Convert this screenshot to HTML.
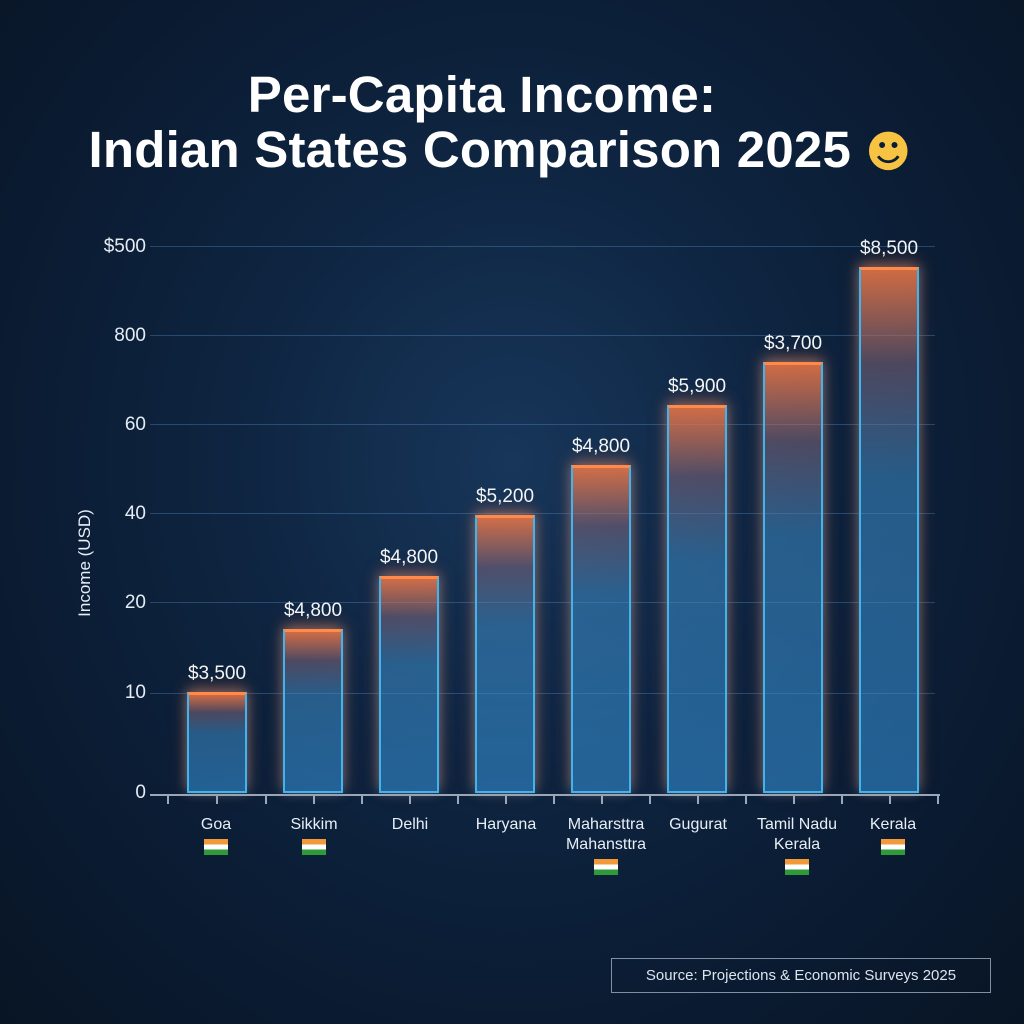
<!DOCTYPE html>
<html><head><meta charset="utf-8"><style>
body{margin:0;width:1024px;height:1024px;overflow:hidden;background:radial-gradient(ellipse at 50% 45%,#17365a 0%,#0e2440 40%,#0a1a30 75%,#081524 100%);font-family:"Liberation Sans","DejaVu Sans",sans-serif;color:#fff;position:relative}
.t{position:absolute;left:0;width:1000px;text-align:center;font-weight:bold;font-size:51px;letter-spacing:0.2px}
.yl{position:absolute;right:878px;font-size:19px;color:#e6ecf4;text-align:right}
.g{position:absolute;left:150px;width:785px;height:1px;background:rgba(90,150,210,0.35)}
.bar{position:absolute;width:60px;bottom:231px;border:2px solid #3fb4ef;border-top:3px solid #ff8a4a;box-sizing:border-box;background:linear-gradient(to bottom,rgba(240,120,70,0.85) 0%,rgba(140,110,130,0.5) 18%,rgba(60,140,200,0.55) 40%,rgba(50,140,210,0.6) 100%);box-shadow:0 -4px 14px rgba(255,120,60,0.5),0 0 10px rgba(60,170,240,0.35)}
.v{position:absolute;width:120px;text-align:center;font-size:19px;color:#f4f4f4}
.c{position:absolute;width:130px;text-align:center;font-size:16px;color:#e8eef6;line-height:20px}
.f{display:inline-block;width:24px;height:16px;background:linear-gradient(#f29a3a 33%,#fff 33%,#fff 66%,#2e9a3a 66%);margin-top:4px}
.tk{position:absolute;top:796px;width:2px;height:8px;background:#9aa8b8}
</style></head><body>
<div class="t" style="top:65px;left:-18px">Per-Capita Income:</div>
<div class="t" style="top:120px">Indian States Comparison 2025 <span style="font-family:'DejaVu Sans',sans-serif;color:#f6c343;font-size:44px">☻</span></div>

<div class="g" style="top:246px"></div><div class="g" style="top:335px"></div><div class="g" style="top:424px"></div><div class="g" style="top:513px"></div><div class="g" style="top:602px"></div><div class="g" style="top:693px"></div>
<div style="position:absolute;left:150px;top:794px;width:790px;height:2px;background:#9aa8b8"></div>
<div class="yl" style="top:236px">$500</div><div class="yl" style="top:325px">800</div><div class="yl" style="top:414px">60</div><div class="yl" style="top:503px">40</div><div class="yl" style="top:592px">20</div><div class="yl" style="top:682px">10</div><div class="yl" style="top:782px">0</div>
<div style="position:absolute;left:30px;top:553px;transform:rotate(-90deg);transform-origin:center;font-size:17px;color:#e8eef6;width:110px;text-align:center">Income (USD)</div>

<div class="bar" style="left:187px;height:101px"></div>
<div class="bar" style="left:283px;height:164px"></div>
<div class="bar" style="left:379px;height:217px"></div>
<div class="bar" style="left:475px;height:278px"></div>
<div class="bar" style="left:571px;height:328px"></div>
<div class="bar" style="left:667px;height:388px"></div>
<div class="bar" style="left:763px;height:431px"></div>
<div class="bar" style="left:859px;height:526px"></div>

<div class="v" style="left:157px;top:663px">$3,500</div>
<div class="v" style="left:253px;top:600px">$4,800</div>
<div class="v" style="left:349px;top:547px">$4,800</div>
<div class="v" style="left:445px;top:486px">$5,200</div>
<div class="v" style="left:541px;top:436px">$4,800</div>
<div class="v" style="left:637px;top:376px">$5,900</div>
<div class="v" style="left:733px;top:333px">$3,700</div>
<div class="v" style="left:829px;top:238px">$8,500</div>

<div class="tk" style="left:167px"></div><div class="tk" style="left:216px"></div><div class="tk" style="left:265px"></div><div class="tk" style="left:313px"></div><div class="tk" style="left:361px"></div><div class="tk" style="left:409px"></div><div class="tk" style="left:457px"></div><div class="tk" style="left:505px"></div><div class="tk" style="left:553px"></div><div class="tk" style="left:601px"></div><div class="tk" style="left:649px"></div><div class="tk" style="left:697px"></div><div class="tk" style="left:745px"></div><div class="tk" style="left:793px"></div><div class="tk" style="left:841px"></div><div class="tk" style="left:889px"></div><div class="tk" style="left:937px"></div>

<div class="c" style="left:151px;top:815px">Goa<br><span class="f"></span></div>
<div class="c" style="left:249px;top:815px">Sikkim<br><span class="f"></span></div>
<div class="c" style="left:345px;top:815px">Delhi</div>
<div class="c" style="left:441px;top:815px">Haryana</div>
<div class="c" style="left:541px;top:815px">Maharsttra<br>Mahansttra<br><span class="f"></span></div>
<div class="c" style="left:633px;top:815px">Gugurat</div>
<div class="c" style="left:732px;top:815px">Tamil Nadu<br>Kerala<br><span class="f"></span></div>
<div class="c" style="left:828px;top:815px">Kerala<br><span class="f"></span></div>

<div style="position:absolute;left:611px;top:958px;width:380px;height:35px;border:1px solid #8090a4;box-sizing:border-box;font-size:15px;color:#dde4ee;line-height:33px;text-align:center">Source: Projections &amp; Economic Surveys 2025</div>
</body></html>
